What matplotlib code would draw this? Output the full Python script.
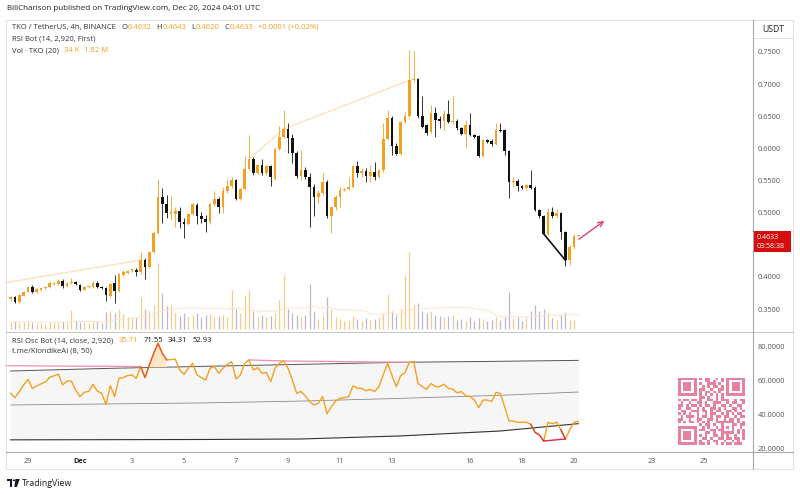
import numpy as np
import pandas as pd
import matplotlib
matplotlib.use("Agg")
import matplotlib.pyplot as plt
from matplotlib.patches import Rectangle, Polygon, Circle
from matplotlib.lines import Line2D
from matplotlib.colors import ListedColormap

plt.rcParams['font.family'] = ['Open Sans', 'DejaVu Sans']

W, H = 800, 494
ORANGE = '#f4a020'
BLACK = '#111111'
GREY_TXT = '#555555'

# --- TKO / USDT 4h candles ---
opens = [0.365, 0.369, 0.361, 0.371, 0.377, 0.385, 0.376, 0.379, 0.382, 0.384,
         0.389, 0.389, 0.394, 0.386, 0.390, 0.392, 0.387, 0.380, 0.384, 0.384,
         0.391, 0.384, 0.382, 0.370, 0.391, 0.378, 0.403, 0.406, 0.409, 0.411,
         0.407, 0.426, 0.416, 0.439, 0.469, 0.524, 0.513, 0.498, 0.498, 0.503,
         0.486, 0.482, 0.498, 0.512, 0.494, 0.490, 0.486, 0.513, 0.521, 0.509,
         0.533, 0.541, 0.550, 0.521, 0.537, 0.568, 0.583, 0.562, 0.574, 0.561,
         0.572, 0.553, 0.599, 0.618, 0.630, 0.616, 0.593, 0.557, 0.566, 0.556,
         0.540, 0.525, 0.530, 0.548, 0.494, 0.509, 0.524, 0.535, 0.537, 0.540,
         0.572, 0.561, 0.565, 0.557, 0.564, 0.556, 0.566, 0.615, 0.648, 0.604,
         0.592, 0.641, 0.650, 0.706, 0.708, 0.650, 0.636, 0.626, 0.655, 0.645,
         0.642, 0.654, 0.641, 0.643, 0.631, 0.623, 0.636, 0.621, 0.619, 0.588,
         0.613, 0.612, 0.607, 0.629, 0.628, 0.596, 0.547, 0.549, 0.541, 0.539,
         0.543, 0.539, 0.504, 0.495, 0.467, 0.501, 0.494, 0.499, 0.470, 0.426,
         0.447, 0.4632]
highs = [0.371, 0.370, 0.373, 0.378, 0.386, 0.387, 0.382, 0.383, 0.385, 0.394,
         0.392, 0.396, 0.396, 0.392, 0.399, 0.394, 0.389, 0.386, 0.387, 0.393,
         0.393, 0.386, 0.384, 0.391, 0.403, 0.406, 0.410, 0.411, 0.413, 0.414,
         0.439, 0.429, 0.441, 0.471, 0.552, 0.539, 0.527, 0.526, 0.509, 0.508,
         0.491, 0.500, 0.515, 0.515, 0.501, 0.496, 0.515, 0.533, 0.525, 0.540,
         0.553, 0.555, 0.552, 0.539, 0.588, 0.621, 0.586, 0.576, 0.583, 0.574,
         0.574, 0.601, 0.635, 0.659, 0.639, 0.623, 0.596, 0.597, 0.571, 0.561,
         0.545, 0.535, 0.561, 0.550, 0.511, 0.527, 0.540, 0.539, 0.556, 0.574,
         0.581, 0.569, 0.569, 0.574, 0.579, 0.568, 0.639, 0.660, 0.650, 0.608,
         0.643, 0.657, 0.753, 0.752, 0.710, 0.681, 0.638, 0.668, 0.665, 0.650,
         0.660, 0.675, 0.681, 0.645, 0.633, 0.644, 0.655, 0.623, 0.621, 0.615,
         0.615, 0.615, 0.640, 0.640, 0.630, 0.598, 0.556, 0.553, 0.543, 0.545,
         0.567, 0.541, 0.506, 0.497, 0.507, 0.509, 0.505, 0.501, 0.472, 0.449,
         0.466, 0.4643]
lows = [0.363, 0.360, 0.360, 0.370, 0.376, 0.375, 0.375, 0.378, 0.381, 0.383,
        0.388, 0.388, 0.382, 0.385, 0.389, 0.387, 0.378, 0.379, 0.383, 0.383,
        0.383, 0.381, 0.363, 0.368, 0.359, 0.376, 0.402, 0.405, 0.408, 0.401,
        0.405, 0.396, 0.414, 0.437, 0.467, 0.484, 0.491, 0.488, 0.478, 0.476,
        0.460, 0.480, 0.496, 0.483, 0.484, 0.470, 0.483, 0.511, 0.500, 0.499,
        0.531, 0.539, 0.519, 0.519, 0.535, 0.566, 0.559, 0.560, 0.558, 0.559,
        0.541, 0.550, 0.597, 0.616, 0.593, 0.577, 0.554, 0.551, 0.553, 0.478,
        0.494, 0.515, 0.528, 0.492, 0.469, 0.504, 0.509, 0.533, 0.535, 0.538,
        0.556, 0.556, 0.548, 0.548, 0.551, 0.554, 0.564, 0.613, 0.590, 0.589,
        0.589, 0.639, 0.648, 0.704, 0.648, 0.632, 0.621, 0.624, 0.617, 0.631,
        0.629, 0.639, 0.638, 0.629, 0.621, 0.600, 0.619, 0.616, 0.586, 0.586,
        0.608, 0.604, 0.605, 0.625, 0.590, 0.522, 0.540, 0.534, 0.537, 0.535,
        0.537, 0.502, 0.492, 0.465, 0.465, 0.492, 0.492, 0.459, 0.417, 0.418,
        0.444, 0.4620]
closes = [0.369, 0.361, 0.372, 0.377, 0.385, 0.376, 0.381, 0.382, 0.384, 0.390,
          0.391, 0.394, 0.386, 0.391, 0.392, 0.389, 0.380, 0.384, 0.386, 0.391,
          0.384, 0.382, 0.372, 0.389, 0.378, 0.404, 0.408, 0.409, 0.412, 0.407,
          0.426, 0.416, 0.439, 0.469, 0.524, 0.513, 0.499, 0.501, 0.503, 0.486,
          0.482, 0.498, 0.513, 0.494, 0.490, 0.486, 0.513, 0.521, 0.509, 0.534,
          0.541, 0.550, 0.521, 0.537, 0.568, 0.583, 0.562, 0.574, 0.561, 0.572,
          0.555, 0.599, 0.618, 0.630, 0.616, 0.593, 0.557, 0.567, 0.556, 0.540,
          0.525, 0.530, 0.548, 0.494, 0.509, 0.524, 0.535, 0.537, 0.540, 0.572,
          0.562, 0.565, 0.557, 0.564, 0.556, 0.566, 0.615, 0.648, 0.604, 0.592,
          0.641, 0.650, 0.706, 0.708, 0.650, 0.634, 0.624, 0.655, 0.644, 0.642,
          0.654, 0.641, 0.643, 0.631, 0.623, 0.636, 0.621, 0.618, 0.588, 0.613,
          0.610, 0.607, 0.629, 0.627, 0.596, 0.547, 0.549, 0.541, 0.539, 0.543,
          0.539, 0.504, 0.495, 0.467, 0.501, 0.494, 0.499, 0.470, 0.426, 0.447,
          0.4632, 0.4633]
# volume in millions of TKO
volumes = [0.9, 1.0, 0.8, 0.9, 1.0, 0.9, 0.8, 0.8, 0.7, 0.9,
           0.8, 0.9, 1.0, 0.8, 2.5, 1.0, 0.9, 0.9, 0.8, 0.9,
           1.0, 0.8, 2.2, 2.3, 2.1, 2.6, 2.0, 1.6, 1.4, 1.6,
           4.2, 2.6, 2.3, 3.1, 8.6, 4.7, 3.0, 3.1, 2.1, 1.7,
           2.1, 1.6, 1.8, 2.1, 1.6, 1.8, 2.0, 1.6, 1.7, 1.8,
           1.6, 5.1, 2.6, 2.1, 4.4, 5.1, 2.3, 1.6, 1.8, 1.6,
           1.7, 2.1, 3.8, 7.0, 2.6, 2.1, 1.8, 1.6, 1.8, 5.9,
           2.3, 1.3, 1.8, 4.2, 2.6, 1.6, 1.3, 1.0, 1.2, 1.7,
           1.3, 1.0, 1.4, 1.2, 1.3, 1.6, 2.1, 4.6, 2.3, 1.8,
           2.6, 7.0, 10.0, 3.1, 3.4, 2.3, 2.1, 2.3, 1.8, 1.7,
           1.6, 1.7, 1.8, 1.2, 1.3, 1.0, 1.6, 1.0, 1.4, 1.3,
           1.0, 1.2, 1.6, 1.2, 1.6, 4.8, 1.3, 1.6, 1.0, 1.4,
           2.3, 3.1, 2.3, 2.6, 2.1, 1.4, 1.2, 1.8, 2.2, 1.2,
           1.2, 0.034]
rsi = [52.2, 49.6, 53.2, 57.1, 60.4, 55.1, 56.5, 57.7, 58.8, 61.6,
       62.4, 63.5, 57.1, 59.4, 59.4, 54.1, 50.2, 52.8, 53.2, 57.5,
       53.5, 52.2, 45.7, 56.7, 50.2, 61.0, 61.4, 62.6, 63.0, 61.0,
       67.9, 61.4, 68.8, 75.7, 81.6, 75.7, 71.8, 72.0, 72.2, 65.9,
       63.3, 66.9, 69.8, 63.0, 61.4, 60.0, 66.9, 67.9, 63.9, 66.9,
       69.2, 70.8, 60.6, 63.0, 69.8, 71.8, 65.9, 67.3, 63.9, 64.5,
       59.0, 66.9, 69.8, 71.2, 66.9, 60.0, 52.2, 53.2, 50.6, 47.3,
       45.3, 46.3, 50.2, 40.2, 44.3, 47.7, 49.2, 49.6, 50.2, 56.5,
       55.1, 55.1, 53.7, 54.5, 53.2, 56.1, 63.3, 69.8, 62.6, 56.1,
       62.6, 64.3, 70.4, 70.8, 58.0, 56.1, 54.5, 57.9, 56.1, 56.1,
       57.5, 55.1, 54.7, 52.4, 53.2, 50.8, 50.2, 48.2, 43.7, 48.2,
       48.2, 47.3, 52.8, 52.0, 44.3, 35.9, 35.9, 35.1, 35.1, 35.1,
       34.0, 29.2, 27.7, 24.1, 35.1, 34.3, 35.1, 30.6, 25.3, 30.6,
       35.1, 35.71]

# RSI channel bands, read at a few candles
band_idx = [0, 22, 44, 67, 90, 113, 131]
band_upper = [65.3, 66.8, 68.0, 69.2, 70.4, 71.0, 71.55]
band_mid = [45.3, 45.9, 46.5, 47.6, 49.2, 51.0, 52.93]
band_lower = [24.8, 24.9, 25.0, 25.3, 27.1, 30.0, 34.31]

# pivot lines drawn by the indicator
hi_pivots = [55, 63, 92]
hi_edge_price, hi_edge_rsi = 0.391, 68.4
lo_pivots = [123, 128]
hot_span = (30, 36)
cold_spans = [(120, 123), (127, 128)]
arrow_days = [19.1, 20.26]
arrow_prices = [0.456, 0.490]

price_ticks = [0.35, 0.40, 0.50, 0.55, 0.60, 0.65, 0.70, 0.75]
rsi_ticks = [20, 40, 60, 80]
date_ticks = ['2024-11-29', '2024-12-01', '2024-12-03', '2024-12-05', '2024-12-07',
              '2024-12-09', '2024-12-11', '2024-12-13', '2024-12-16', '2024-12-18',
              '2024-12-20', '2024-12-23', '2024-12-25']
date_labels = ['29', 'Dec', '3', '5', '7', '9', '11', '13', '16', '18', '20', '23', '25']

qr_rows = [
    "#######.#.##..#.#.#######",
    "#.....#...##.#..#.#.....#",
    "#.###.#.#..###.#..#.###.#",
    "#.###.#..#.#.##.#.#.###.#",
    "#.###.#.##..#..##.#.###.#",
    "#.....#.#.##.#.#..#.....#",
    "#######.#.#.#.#.#.#######",
    "........##.#..#.#........",
    "#.##.##.#..##.#.###..#.##",
    ".#..#..##.#..###..#.##..#",
    "##.#.##.#.##.#..##.#..##.",
    "#..##..#.#..##.#.#..##.#.",
    ".##..###.##.#.##..##.#..#",
    "#.#.#..#..#.##..#.#.#.##.",
    ".#.###.#.##.#.##.##..#.##",
    "##..#..##..##.#..#.##.#..",
    "#.#.##.#.#.#..#######.#.#",
    "........#.##.#..#...##.##",
    "#######..#.#..#.#.#.#..#.",
    "#.....#.##..##.##...#.#.#",
    "#.###.#...##.#..#####.#.#",
    "#.###.#.#.#..##.#.#..#..#",
    "#.###.#..##.#..##.##.##.#",
    "#.....#.#..#.##..#..#.#..",
    "#######.##.#..#.#.##.###.",
]


def fx(x):
    return x / W


def fy(y):
    return 1 - y / H


times = pd.date_range('2024-11-28 08:00', periods=len(closes), freq='4h')
day0 = pd.Timestamp('2024-12-01')
xd = ((times - day0) / pd.Timedelta(days=1)).to_numpy()
xlim = ((5 - 80) / 26, (752 - 80) / 26)

fig = plt.figure(figsize=(8, 4.94), dpi=100)
fig.patch.set_facecolor('white')

ax = fig.add_axes([fx(5), fy(332), 747 / W, 314 / H])
axr = fig.add_axes([fx(5), fy(452), 747 / W, 120 / H])

# volume underlay
axv = ax.twinx()
o = np.array(opens); c = np.array(closes)
up = c >= o
vcol = np.where(up, '#f7c98a', '#b9b7cc')
axv.vlines(xd, 0, volumes, colors=vcol, lw=0.9)
vol_ma = pd.Series(volumes).rolling(20, min_periods=1).mean()
axv.plot(xd, vol_ma, color='#fbe6cc', lw=0.7)
axv.set_ylim(-0.4, 40.4)
axv.axis('off')
ax.set_zorder(axv.get_zorder() + 1)
ax.patch.set_visible(False)

# candles
ccol = np.where(up, ORANGE, BLACK)
ax.vlines(xd, lows, highs, colors=ccol, lw=0.6, zorder=3)
body_lo = np.minimum(o, c)
body_h = np.maximum(np.abs(c - o), 0.0012)
ax.bar(xd, body_h, bottom=body_lo, width=0.115, color=ccol, lw=0, zorder=4)

# pivot lines on price
ax.plot([xlim[0], xd[30]], [hi_edge_price, closes[30]], color='#fbe2c2', lw=1.0, zorder=2)
ax.plot(xd[hi_pivots], [closes[i] for i in hi_pivots], color='#fbe2c2', lw=1.0, zorder=2)
ax.plot(xd[lo_pivots], [closes[i] for i in lo_pivots], color=BLACK, lw=1.2, zorder=5)
ax.annotate('', xy=(arrow_days[1], arrow_prices[1]), xytext=(arrow_days[0], arrow_prices[0]),
            arrowprops=dict(arrowstyle='->', color='#d8557d', lw=1.1, mutation_scale=9))

ax.set_xlim(*xlim)
ax.set_ylim(0.75 - (332 - 52) / 642.5, 0.75 + (52 - 18) / 642.5)
ax.set_xticks([])
ax.yaxis.tick_right()
ax.set_yticks(price_ticks)
ax.set_yticklabels([f'{v:.4f}' for v in price_ticks])
ax.tick_params(axis='y', length=0, pad=4, labelsize=5.3, labelcolor=GREY_TXT)
for s in ax.spines.values():
    s.set_visible(False)

# RSI panel
r = np.array(rsi)
bx = xd[band_idx]
axr.fill_between(bx, band_upper, band_lower, color='#f6f6f6', lw=0, zorder=1)
axr.plot(bx, band_upper, color='#555555', lw=0.7, zorder=2)
axr.plot(bx, band_mid, color='#8a8a8a', lw=0.6, zorder=2)
axr.plot(bx, band_lower, color='#333333', lw=0.8, zorder=2)

up_i = np.interp(np.arange(len(rsi)), band_idx, band_upper)
a, b = hot_span
seg = slice(a, b + 1)
axr.fill_between(xd[seg], r[seg], up_i[seg], where=r[seg] > up_i[seg],
                 color='#fde6c8', lw=0, zorder=2)

axr.plot([xlim[0], xd[30]], [hi_edge_rsi, rsi[30]], color='#ef8fab', lw=0.9, zorder=3)
axr.plot(xd[hi_pivots], r[hi_pivots], color='#ef8fab', lw=0.9, zorder=3)

axr.plot(xd, r, color=ORANGE, lw=1.0, zorder=4)
axr.plot(xd[seg], r[seg], color='#e4622a', lw=1.0, zorder=5)
for a, b in cold_spans:
    axr.plot(xd[a:b + 1], r[a:b + 1], color='#d8433a', lw=1.0, zorder=5)
axr.plot(xd[lo_pivots], r[lo_pivots], color='#d92b3f', lw=1.0, zorder=5)

axr.set_xlim(*xlim)
axr.set_ylim(80 - (452 - 346) / 1.7, 80 + (346 - 332) / 1.7)
axr.yaxis.tick_right()
axr.set_yticks(rsi_ticks)
axr.set_yticklabels([f'{v:.4f}' for v in rsi_ticks])
tick_x = ((pd.to_datetime(date_ticks) - day0) / pd.Timedelta(days=1)).to_numpy()
axr.set_xticks(tick_x)
axr.set_xticklabels(date_labels)
axr.tick_params(length=0, labelsize=5.3, labelcolor=GREY_TXT)
axr.tick_params(axis='x', pad=4)
axr.tick_params(axis='y', pad=4)
for lab in axr.get_xticklabels():
    if lab.get_text() == 'Dec':
        lab.set_fontweight('bold')
        lab.set_color('#222222')
for s in axr.spines.values():
    s.set_visible(False)

# QR code
qr = np.array([[ch == '#' for ch in row.ljust(25, '.')[:25]] for row in qr_rows], dtype=int)
axq = fig.add_axes([fx(678), fy(445), 67 / W, 67 / H])
axq.imshow(qr, cmap=ListedColormap(['white', '#e682a0']), interpolation='nearest', aspect='auto')
axq.axis('off')


# chrome: frame and separators
def fline(xs, ys, color, lw=0.8):
    fig.add_artist(Line2D([fx(v) for v in xs], [fy(v) for v in ys], color=color, lw=lw))


fig.add_artist(Rectangle((fx(6), fy(469)), (793 - 6) / W, (469 - 20) / H, fill=False,
                         ec='#e0e3eb', lw=0.8, transform=fig.transFigure))
fline([6, 793], [332, 332], '#c9c9c9')
fline([6, 793], [452, 452], '#a8a8a8')
fline([752.5, 752.5], [20, 469], '#a8a8a8')

fig.add_artist(Rectangle((fx(753), fy(38)), 40 / W, 18 / H, fc='white', ec='#e0e3eb',
                         lw=0.7, transform=fig.transFigure))
fig.text(fx(773), fy(29), 'USDT', fontsize=6.2, color='#222222', ha='center', va='center')

fig.add_artist(Rectangle((fx(753), fy(252.5)), 38 / W, 21 / H, fc='#d60d0d', ec='none',
                         transform=fig.transFigure))
fig.text(fx(756.5), fy(237.5), '0.4633', fontsize=5, color='white', va='center')
fig.text(fx(756.5), fy(246.5), '03:58:38', fontsize=5, color='white', va='center')

renderer = fig.canvas.get_renderer()


def t(x, y, s, color='#333333', size=5.5, **kw):
    return fig.text(fx(x), fy(y), s, fontsize=size, color=color, va='center', **kw)


def seq(x, y, pieces, size=5.5):
    # lay pieces out left to right: (text, colour, gap in px after it)
    for s, col, gap in pieces:
        txt = t(x, y, s, col, size)
        x = txt.get_window_extent(renderer).x1 + gap


t(7, 9, 'BillCharison published on TradingView.com, Dec 20, 2024 04:01 UTC', '#222222', 5.8)
seq(12.5, 27.5, [('TKO / TetherUS, 4h, BINANCE', '#333333', 5), ('O', '#333333', 0.3),
                 ('0.4632', ORANGE, 5), ('H', '#333333', 0.3), ('0.4643', ORANGE, 5),
                 ('L', '#333333', 0.3), ('0.4620', ORANGE, 5), ('C', '#333333', 0.3),
                 ('0.4633', ORANGE, 5), ('+0.0001 (+0.02%)', ORANGE, 0)])
t(12.5, 39, 'RSI Bot (14, 2,920, First)')
seq(12.5, 50.5, [('Vol · TKO (20)', '#333333', 5), ('34 K', ORANGE, 4), ('1.82 M', ORANGE, 0)])

seq(12.5, 340.5, [('RSI Osc Bot (14, close, 2,920)', '#333333', 5), ('35.71', ORANGE, 5),
                  ('71.55', '#111111', 5), ('34.31', '#111111', 5), ('52.93', '#111111', 0)])
t(12.5, 350.7, 't.me/KlondikeAI (8, 50)')

# TradingView logo mark + name
logo = [Polygon([(fx(7), fy(479)), (fx(12), fy(479)), (fx(12), fy(487)), (fx(9.6), fy(487)),
                 (fx(9.6), fy(481.4)), (fx(7), fy(481.4))], closed=True),
        Polygon([(fx(15.5), fy(479)), (fx(19.8), fy(479)), (fx(16.8), fy(487)), (fx(14.3), fy(487))],
                closed=True)]
for p in logo:
    p.set_transform(fig.transFigure); p.set_facecolor('#131722'); p.set_edgecolor('none')
    fig.add_artist(p)
fig.add_artist(Circle((fx(14), fy(480.3)), 1.3 / W, transform=fig.transFigure, fc='#131722', ec='none'))
t(21.5, 483, 'TradingView', '#131722', 6.3)

fig.savefig('out.png', dpi=100)
